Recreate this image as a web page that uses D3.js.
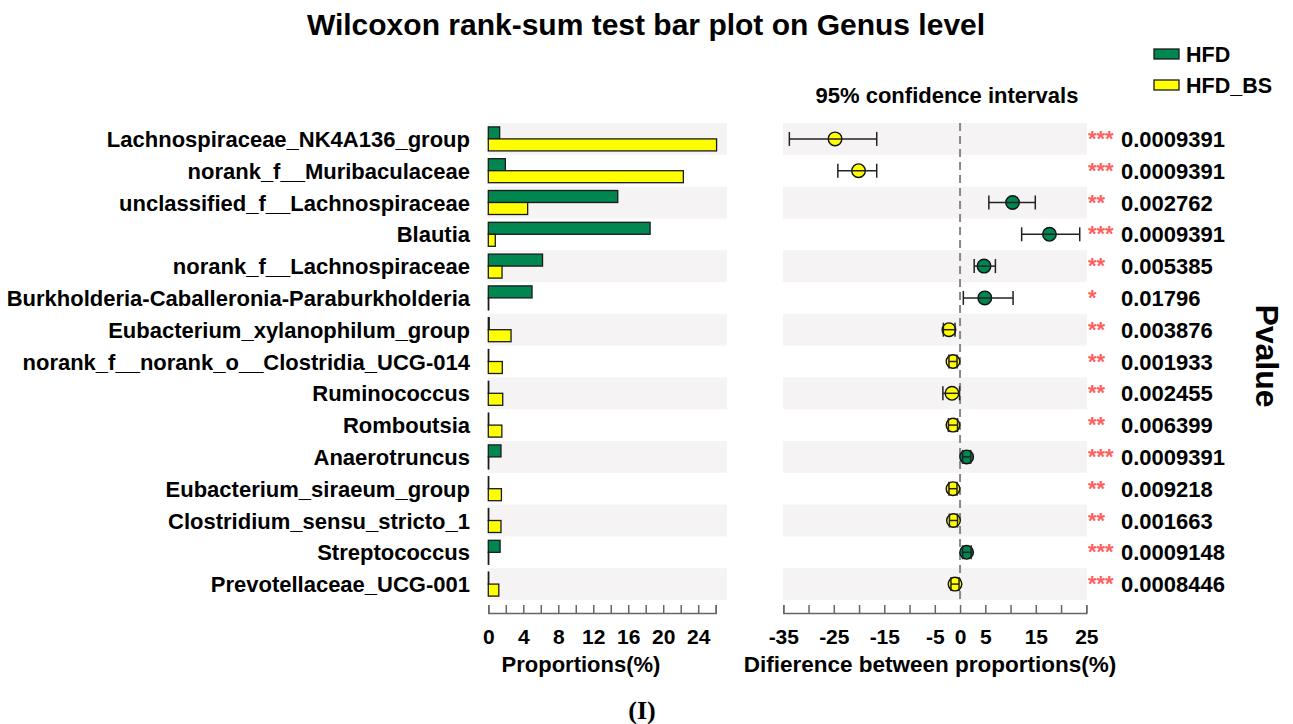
<!DOCTYPE html>
<html>
<head>
<meta charset="utf-8">
<script src="https://cdn.jsdelivr.net/npm/d3@7"></script>
<style>
  body { margin: 0; background: #fff; }
  text { font-family: "Liberation Sans", Arial, sans-serif; font-weight: bold; }
</style>
</head>
<body>
<svg id="chart" width="1293" height="724"></svg>
<script>
// genus names, top to bottom
const genera = [
  'Lachnospiraceae_NK4A136_group', 'norank_f__Muribaculaceae', 'unclassified_f__Lachnospiraceae',
  'Blautia', 'norank_f__Lachnospiraceae', 'Burkholderia-Caballeronia-Paraburkholderia',
  'Eubacterium_xylanophilum_group', 'norank_f__norank_o__Clostridia_UCG-014', 'Ruminococcus',
  'Romboutsia', 'Anaerotruncus', 'Eubacterium_siraeum_group', 'Clostridium_sensu_stricto_1',
  'Streptococcus', 'Prevotellaceae_UCG-001'
];
const hfd    = [1.3, 1.95, 14.8, 18.5, 6.2, 5.0, 0.1, 0.05, 0.05, 0.05, 1.45, 0.05, 0.05, 1.35, 0.05];
const hfdBs  = [26.1, 22.3, 4.5, 0.8, 1.57, 0.05, 2.6, 1.6, 1.65, 1.55, 0.05, 1.5, 1.45, 0.05, 1.2];
const diff   = [-24.75, -20.1, 10.4, 17.7, 4.75, 4.9, -2.2, -1.4, -1.6, -1.4, 1.3, -1.4, -1.3, 1.3, -1.0];
const ciLow  = [-33.8, -24.2, 5.7, 12.2, 2.8, 0.65, -3.3, -2.2, -3.4, -2.3, 0.5, -2.2, -2.1, 0.5, -1.8];
const ciHigh = [-16.5, -16.5, 14.9, 23.7, 7.0, 10.5, -1.0, -0.6, -0.1, -0.5, 2.1, -0.6, -0.5, 2.2, -0.2];
const pvals  = ['0.0009391', '0.0009391', '0.002762', '0.0009391', '0.005385', '0.01796', '0.003876',
  '0.001933', '0.002455', '0.006399', '0.0009391', '0.009218', '0.001663', '0.0009148', '0.0008446'];
const groups = ['HFD', 'HFD_BS'];
const leftTicks = d3.range(0, 27, 2);
const leftLabels = [0, 4, 8, 12, 16, 20, 24];
const rightTicks = d3.range(-35, 26, 5);
const rightLabels = [-35, -25, -15, -5, 0, 5, 15, 25];

const colors = { HFD: '#008751', HFD_BS: '#ffff00' };

const rows = genera.map((g, i) => ({
  name: g, hfd: hfd[i], bs: hfdBs[i], diff: diff[i], lo: ciLow[i], hi: ciHigh[i], p: pvals[i]
}));

function stars(p) {
  const v = +p;
  return v < 0.001 ? '***' : v < 0.01 ? '**' : '*';
}

const svg = d3.select('#chart');

const y = d3.scaleBand().domain(genera).range([123, 600]).padding(0);
const xL = d3.scaleLinear().domain([0, 26]).range([488.3, 715.7]);
const xR = d3.scaleLinear().domain([-35, 25]).range([783.3, 1086.3]);
const axisY = 613;

// title
svg.append('text').attr('x', 646).attr('y', 35).attr('text-anchor', 'middle')
  .style('font-size', '30px').text('Wilcoxon rank-sum test bar plot on Genus level');

// stripes
const stripeRows = rows.filter((d, i) => i % 2 === 0);
svg.append('g').selectAll('rect').data(stripeRows).join('rect')
  .attr('x', 488).attr('width', 727 - 488)
  .attr('y', d => y(d.name)).attr('height', y.bandwidth())
  .attr('fill', '#f5f3f4');
svg.append('g').selectAll('rect').data(stripeRows).join('rect')
  .attr('x', 783).attr('width', 1087 - 783)
  .attr('y', d => y(d.name)).attr('height', y.bandwidth())
  .attr('fill', '#f5f3f4');

// category labels
svg.append('g').selectAll('text').data(rows).join('text')
  .attr('x', 470).attr('y', d => y(d.name) + y.bandwidth() / 2 + 8)
  .attr('text-anchor', 'end').style('font-size', '22px')
  .text(d => d.name);

// bars
const bh = 12;
const barG = svg.append('g');
barG.selectAll('.hfd').data(rows).join('rect').attr('class', 'hfd')
  .attr('x', xL(0)).attr('y', d => y(d.name) + y.bandwidth() / 2 - bh)
  .attr('width', d => xL(d.hfd) - xL(0)).attr('height', bh)
  .attr('fill', colors.HFD).attr('stroke', '#1a1a1a').attr('stroke-width', 1.3);
barG.selectAll('.bs').data(rows).join('rect').attr('class', 'bs')
  .attr('x', xL(0)).attr('y', d => y(d.name) + y.bandwidth() / 2)
  .attr('width', d => xL(d.bs) - xL(0)).attr('height', bh)
  .attr('fill', colors.HFD_BS).attr('stroke', '#1a1a1a').attr('stroke-width', 1.3);

// axes
function styleAxis(g) {
  g.selectAll('path, line').attr('stroke', '#666').attr('stroke-width', 1.5);
  g.selectAll('text').attr('fill', '#000').style('font-size', '21px')
    .style('font-family', '"Liberation Sans", Arial, sans-serif').style('font-weight', 'bold');
}
svg.append('g').attr('transform', `translate(0,${axisY})`)
  .call(d3.axisBottom(xL).tickValues(leftTicks).tickSize(-8).tickPadding(16)
    .tickFormat(d => leftLabels.includes(d) ? d : ''))
  .call(styleAxis);
svg.append('g').attr('transform', `translate(0,${axisY})`)
  .call(d3.axisBottom(xR).tickValues(rightTicks).tickSize(-8).tickPadding(16)
    .tickFormat(d => rightLabels.includes(d) ? d : ''))
  .call(styleAxis);

svg.append('text').attr('x', 581).attr('y', 672).attr('text-anchor', 'middle')
  .style('font-size', '22px').text('Proportions(%)');
svg.append('text').attr('x', 930).attr('y', 672).attr('text-anchor', 'middle')
  .style('font-size', '22.5px').text('Difierence between proportions(%)');
svg.append('text').attr('x', 947).attr('y', 103).attr('text-anchor', 'middle')
  .style('font-size', '22px').text('95% confidence intervals');

// zero line
svg.append('line').attr('x1', xR(0)).attr('x2', xR(0)).attr('y1', 123).attr('y2', 600)
  .attr('stroke', '#888').attr('stroke-width', 2).attr('stroke-dasharray', '8,5');

// confidence intervals
const ci = svg.append('g').selectAll('g').data(rows).join('g')
  .attr('transform', d => `translate(0,${y(d.name) + y.bandwidth() / 2})`);
ci.append('circle').attr('cx', d => xR(d.diff)).attr('r', 6.8)
  .attr('fill', d => d.diff > 0 ? colors.HFD : colors.HFD_BS)
  .attr('stroke', '#111').attr('stroke-width', 1.4);
ci.append('line').attr('x1', d => xR(d.lo)).attr('x2', d => xR(d.hi))
  .attr('stroke', '#222').attr('stroke-width', 1.5);
ci.append('line').attr('x1', d => xR(d.lo)).attr('x2', d => xR(d.lo)).attr('y1', -7).attr('y2', 7)
  .attr('stroke', '#222').attr('stroke-width', 1.5);
ci.append('line').attr('x1', d => xR(d.hi)).attr('x2', d => xR(d.hi)).attr('y1', -7).attr('y2', 7)
  .attr('stroke', '#222').attr('stroke-width', 1.5);

// stars and p-values
ci.append('text').attr('x', 1088).attr('y', 7).style('font-size', '22px')
  .attr('fill', '#ff5f5f').text(d => stars(d.p));
ci.append('text').attr('x', 1121).attr('y', 8).style('font-size', '22px')
  .text(d => d.p);

svg.append('text').attr('transform', 'translate(1256,356) rotate(90)')
  .attr('text-anchor', 'middle').style('font-size', '32px').text('Pvalue');

// legend
const leg = svg.append('g').selectAll('g').data(groups).join('g')
  .attr('transform', (d, i) => `translate(1154,${49 + i * 31})`);
leg.append('rect').attr('width', 25).attr('height', 10)
  .attr('fill', d => colors[d]).attr('stroke', '#1a1a1a').attr('stroke-width', 1.3);
leg.append('text').attr('x', 32).attr('y', 13).style('font-size', '21.5px').text(d => d);

svg.append('text').attr('x', 642).attr('y', 719).attr('text-anchor', 'middle')
  .style('font-family', '"Liberation Serif", "Times New Roman", serif').style('font-size', '26px')
  .text('(I)');
</script>
</body>
</html>
